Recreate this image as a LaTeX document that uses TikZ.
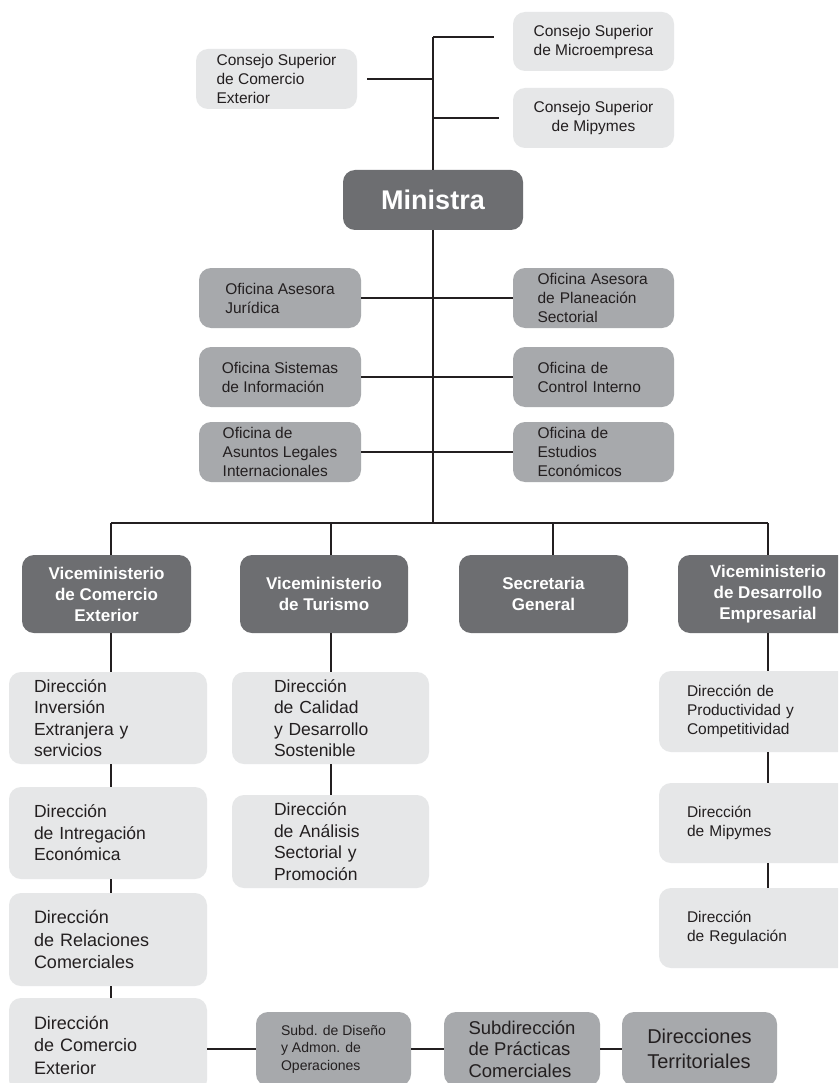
\documentclass[tikz,border=0pt]{standalone}
\usepackage{fontspec}
\setmainfont{Liberation Sans}
\definecolor{lightfill}{HTML}{E6E7E8}
\definecolor{midfill}{HTML}{A7A9AC}
\definecolor{darkfill}{HTML}{6D6E71}
\definecolor{ink}{HTML}{231F20}
\tikzset{
  base/.style={rounded corners=12pt, inner sep=0pt, text=ink},
  boxlight/.style={base, fill=lightfill},
  boxmid/.style={base, fill=midfill},
  boxdark/.style={base, fill=darkfill, text=white, align=center},
  wh/.style 2 args={minimum width=#1pt, minimum height=#2pt},
  fs/.style 2 args={font=\fontsize{#1}{#2}\selectfont},
  vice/.style={boxdark, wh={#1}{78}, font=\bfseries\fontsize{17}{21}\selectfont},
  link/.style={draw=ink, line width=1.4pt}
}
\begin{document}
\begin{tikzpicture}[x=1pt, y=-1pt]
\clip (0,0) rectangle (838,1083);
\fill[white] (0,0) rectangle (838,1083);

% councils and minister
\node[boxlight, wh={161}{60}, fs={15.5}{19}, align=left] (csce) at (276.5,79) {Consejo Superior\\de Comercio\\Exterior};
\node[boxlight, wh={161}{59}, fs={15.5}{19}, align=center] (csmi) at (593.5,41.5) {Consejo Superior\\de Microempresa};
\node[boxlight, wh={161}{60}, fs={15.5}{19}, align=center] (csmp) at (593.5,118) {Consejo Superior\\de Mipymes};
\node[boxdark, wh={180}{60}, font=\bfseries\fontsize{27}{30}\selectfont] (min) at (433,200) {Ministra};

% advisory offices
\node[boxmid, wh={162}{60}, fs={15.5}{19}, align=left] (oaj) at (280,298) {Oficina Asesora\\Jurídica};
\node[boxmid, wh={162}{60}, fs={15.5}{19}, align=left] (osi) at (280,377) {Oficina Sistemas\\de Información};
\node[boxmid, wh={162}{60}, fs={15.5}{19}, align=left] (oal) at (280,452) {Oficina de\\Asuntos Legales\\Internacionales};
\node[boxmid, wh={161}{60}, fs={15.5}{19}, align=left, text width=112pt] (oap) at (593.5,298) {Oficina Asesora\\de Planeación\\Sectorial};
\node[boxmid, wh={161}{60}, fs={15.5}{19}, align=left, text width=112pt] (oci) at (593.5,377) {Oficina de\\Control Interno};
\node[boxmid, wh={161}{60}, fs={15.5}{19}, align=left, text width=112pt] (oee) at (593.5,452) {Oficina de\\Estudios\\Económicos};

% vice-ministries and general secretariat
\node[vice=169] (vce) at (106.5,594) {Viceministerio\\de Comercio\\Exterior};
\node[vice=168] (vtu) at (324,594) {Viceministerio\\de Turismo};
\node[vice=169] (sg) at (543.5,594) {Secretaria\\General};
\node[vice=180] (vde) at (768,594) {Viceministerio\\de Desarrollo\\Empresarial};

% foreign trade directorates
\node[boxlight, wh={198}{92}, fs={17.5}{21.5}, align=left, text width=148pt] (d1) at (108,718) {Dirección\\Inversión\\Extranjera y\\servicios};
\node[boxlight, wh={198}{92}, fs={17.5}{21.5}, align=left, text width=148pt] (d2) at (108,833) {Dirección\\de Intregación\\Económica};
\node[boxlight, wh={198}{93}, fs={18}{22.5}, align=left, text width=148pt] (d3) at (108,939.5) {Dirección\\de Relaciones\\Comerciales};
\node[boxlight, wh={198}{94}, fs={18}{22.5}, align=left, text width=148pt] (d4) at (108,1045) {Dirección\\de Comercio\\Exterior};

% tourism directorates
\node[boxlight, wh={197}{92}, fs={17.5}{21.5}, align=left, text width=113pt] (t1) at (330.5,718) {Dirección\\de Calidad\\y Desarrollo\\Sostenible};
\node[boxlight, wh={197}{93}, fs={17.5}{21.5}, align=left, text width=113pt] (t2) at (330.5,841.5) {Dirección\\de Análisis\\Sectorial y\\Promoción};

% business development directorates
\node[boxlight, wh={191}{81}, fs={15.5}{19}, align=left, text width=135pt] (p1) at (754.5,711.5) {Dirección de\\Productividad y\\Competitividad};
\node[boxlight, wh={191}{80}, fs={15.5}{19}, align=left, text width=135pt] (p2) at (754.5,823) {Dirección\\de Mipymes};
\node[boxlight, wh={191}{80}, fs={15.5}{19}, align=left, text width=135pt] (p3) at (754.5,928) {Dirección\\de Regulación};

% sub-directorates
\node[boxmid, wh={155}{74}, fs={14}{17.5}, align=left] (s1) at (333.5,1049) {Subd. de Diseño\\y Admon. de\\Operaciones};
\node[boxmid, wh={156}{74}, fs={18.5}{21.7}, align=left] (s2) at (522,1049) {Subdirección\\de Prácticas\\Comerciales};
\node[boxmid, wh={155}{74}, fs={20}{25}, align=left] (s3) at (699.5,1049) {Direcciones\\Territoriales};

% junction points
\coordinate (top) at (433,37);
\coordinate (bar) at (433,523);
\coordinate (x1) at (111,523);
\coordinate (x2) at (331,523);
\coordinate (x3) at (553,523);
\coordinate (x4) at (768,523);

% spine and councils
\draw[link] (top) -- (min.north);
\draw[link] (min.south) -- (bar);
\draw[link, shorten >=19pt] (top) -- (top -| csmi.west);
\draw[link, shorten >=14pt] (csmp.west -| top) -- (csmp.west);
\draw[link, shorten <=10pt] (csce.east) -- (csce.east -| top);

% offices
\draw[link] (oaj.east) -- (oap.west);
\draw[link] (osi.east) -- (oci.west);
\draw[link] (oal.east) -- (oee.west);

% distribution bar
\draw[link] (x1) -- (x4);
\draw[link] (x1) -- (x1 |- vce.north);
\draw[link] (x2) -- (x2 |- vtu.north);
\draw[link] (x3) -- (x3 |- sg.north);
\draw[link] (x4) -- (x4 |- vde.north);

% columns
\draw[link] (x1 |- vce.south) -- (x1 |- d1.north);
\draw[link] (x1 |- d1.south) -- (x1 |- d2.north);
\draw[link] (x1 |- d2.south) -- (x1 |- d3.north);
\draw[link] (x1 |- d3.south) -- (x1 |- d4.north);
\draw[link] (x2 |- vtu.south) -- (x2 |- t1.north);
\draw[link] (x2 |- t1.south) -- (x2 |- t2.north);
\draw[link] (x4 |- vde.south) -- (x4 |- p1.north);
\draw[link] (x4 |- p1.south) -- (x4 |- p2.north);
\draw[link] (x4 |- p2.south) -- (x4 |- p3.north);

% bottom chain
\draw[link] (s1.west -| d4.east) -- (s1.west);
\draw[link] (s1.east) -- (s2.west);
\draw[link] (s2.east) -- (s3.west);
\end{tikzpicture}
\end{document}
